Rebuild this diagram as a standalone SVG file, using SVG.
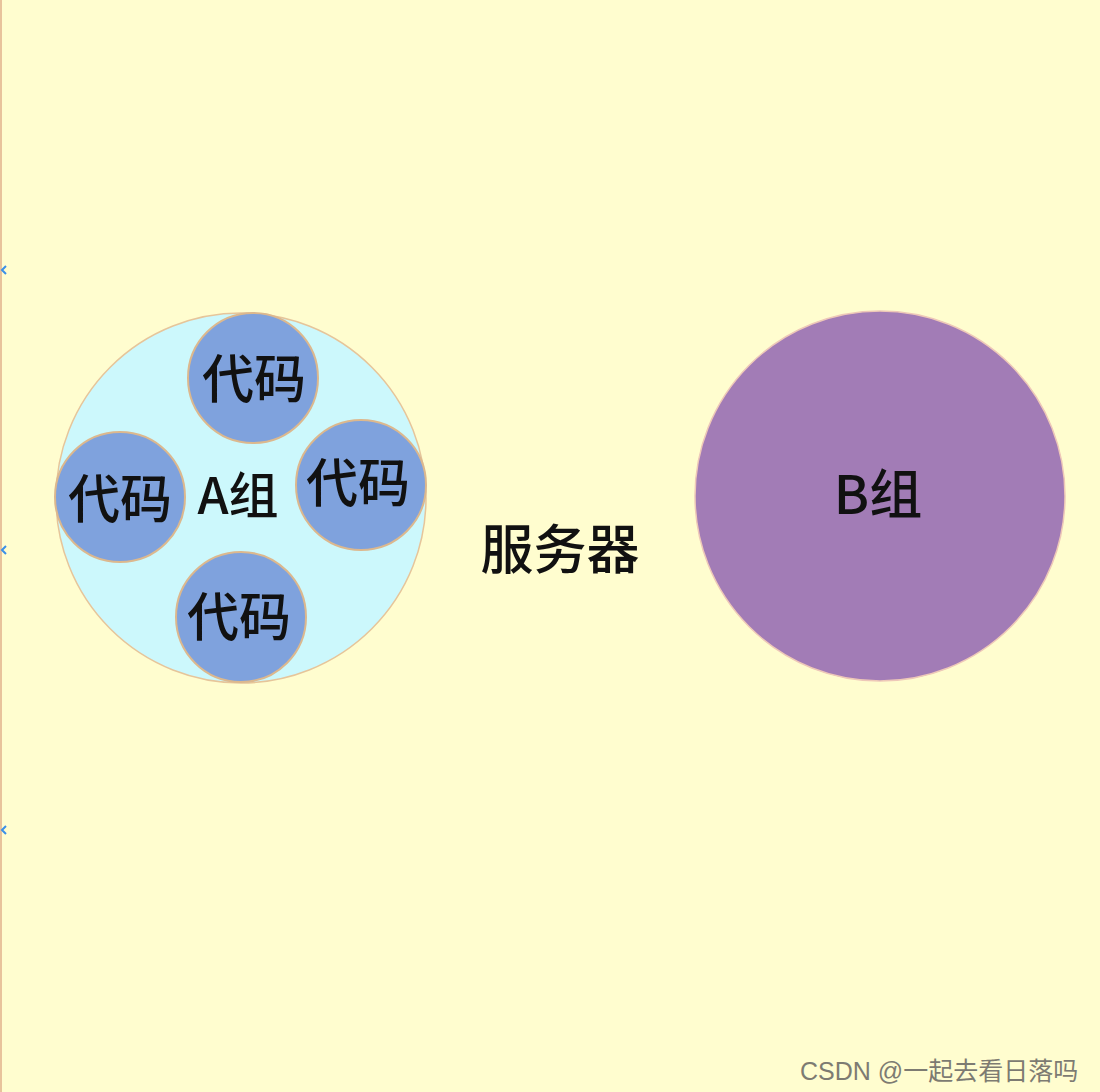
<svg xmlns="http://www.w3.org/2000/svg" width="1100" height="1092" viewBox="0 0 1100 1092">
  <style>
    .lbl { font-family: "Noto Sans CJK SC", "Liberation Sans", sans-serif; font-weight: 500; fill: #111; text-anchor: middle; }
    .code { fill: #7fa2dd; stroke: #dcb88e; stroke-width: 2; }
    .wm { font-family: "Liberation Sans", "Noto Sans CJK SC", sans-serif; fill: #7d7b72; font-size: 25px; }
    .chev { fill: none; stroke: #3a8fe8; stroke-width: 2; }
  </style>
  <rect x="0" y="0" width="1100" height="1092" fill="#fffdcf"/>
  <rect x="0" y="0" width="2" height="1092" fill="#e8c39c"/>
  <g id="edge-marks">
    <path class="chev" d="M6,266 L2,270 L6,274"/>
    <path class="chev" d="M6,546 L2,550 L6,554"/>
    <path class="chev" d="M6,826 L2,830 L6,834"/>
  </g>
  <g id="groupA">
    <circle cx="241" cy="498" r="185" fill="#ccf8fc" stroke="#e6c59a" stroke-width="1.5"/>
    <text class="lbl" x="238" y="514" font-size="50">A组</text>
  </g>
  <g id="codeTop">
    <circle class="code" cx="253" cy="378" r="65"/>
    <text class="lbl" x="254" y="398" font-size="52">代码</text>
  </g>
  <g id="codeLeft">
    <circle class="code" cx="120" cy="497" r="65"/>
    <text class="lbl" x="120" y="518" font-size="52">代码</text>
  </g>
  <g id="codeRight">
    <circle class="code" cx="361" cy="485" r="65"/>
    <text class="lbl" x="358" y="502" font-size="52">代码</text>
  </g>
  <g id="codeBottom">
    <circle class="code" cx="241" cy="617" r="65"/>
    <text class="lbl" x="239" y="636" font-size="52">代码</text>
  </g>
  <g id="server">
    <text class="lbl" x="560" y="569" font-size="53">服务器</text>
  </g>
  <g id="groupB">
    <circle cx="880" cy="496" r="185" fill="#a27cb6" stroke="#eec8b8" stroke-width="1.5"/>
    <text class="lbl" x="878" y="514" font-size="53">B组</text>
  </g>
  <text class="wm" x="800" y="1080">CSDN @一起去看日落吗</text>
</svg>
